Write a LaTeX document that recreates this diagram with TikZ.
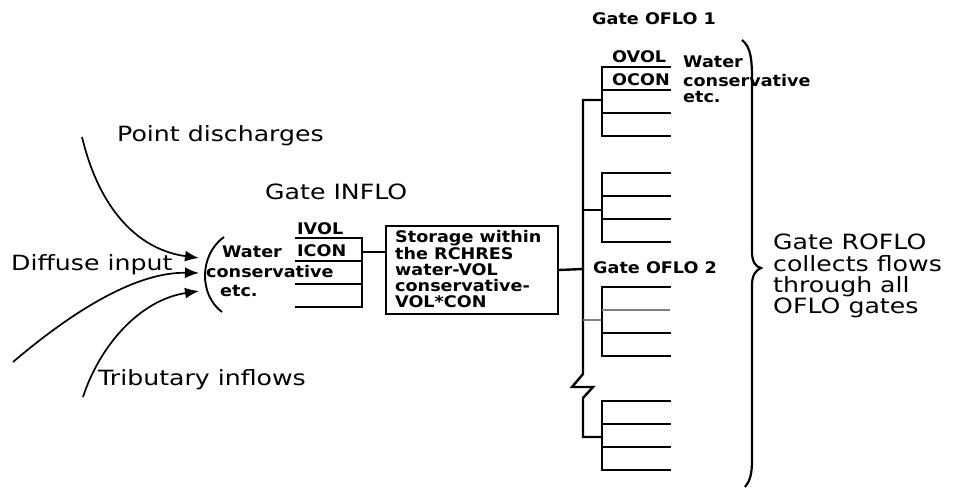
\documentclass[tikz,border=0pt]{standalone}
\usepackage{fontspec}
\usetikzlibrary{arrows.meta}
\newfontfamily\regf[FakeStretch=1.2]{DejaVu Sans}
\newfontfamily\boldf[FakeStretch=1.1]{DejaVu Sans}
\begin{document}
\begin{tikzpicture}[x=1pt,y=-1pt,
  big/.style={font=\regf\fontsize{21}{22}\selectfont, inner sep=0pt, anchor=base west},
  small/.style={font=\boldf\bfseries\fontsize{16}{17}\selectfont, inner sep=0pt, anchor=base west},
  tree/.style={line width=2.4pt, line cap=rect},
  gline/.style={line width=1.7pt},
  flow/.style={line width=1.7pt, -{Latex[length=14pt,width=11pt]}},
  storebox/.style={draw, line width=2pt, inner sep=0pt, minimum width=172pt, minimum height=88pt, anchor=north west}]
\useasboundingbox (0,0) rectangle (954,492);

% ---- inflow side labels
\node[big] (pd) at (117,142) {Point discharges};
\node[big] (gi) at (265,200) {Gate INFLO};
\node[big] (di) at (11,270) {Diffuse input};
\node[big] (ti) at (98,385) {Tributary inflows};

% ---- input arrows
\coordinate (s1) at (82,137);
\coordinate (e1) at (199,258);
\coordinate (s2) at (13,362);
\coordinate (e2) at (199,273);
\coordinate (s3) at (83,397);
\coordinate (e3) at (199,291);
\draw[flow] (s1) .. controls (100,212) and (140,250) .. (e1);
\draw[flow] (s2) .. controls (80,305) and (140,272) .. (e2);
\draw[flow] (s3) .. controls (100,345) and (140,300) .. (e3);

% ---- parenthesis and its text
\coordinate (pt) at (224,237);
\coordinate (pb) at (222,312);
\draw[line width=1.9pt] (pt) .. controls (199,255) and (199,295) .. (pb);
\node[small] (w1) at (222,257) {Water};
\node[small] (c1) at (206,277) {conservative};
\node[small] (x1) at (220,296) {etc.};

% ---- gate INFLO
\node[small] (ivol) at (297,234) {IVOL};
\node[small] (icon) at (297,256) {ICON};
\draw[gline] (295,238) -- (362,238) -- (362,307) -- (295,307);
\draw[gline] (295,261) -- (362,261);
\draw[gline] (295,284) -- (362,284);

% ---- storage box
\node[storebox] (store) at (385,225) {};
\foreach \t [count=\i] in {Storage within, the RCHRES, water-VOL, conservative-, VOL*CON}
  \node[small] (st\i) at (395,{243+16*(\i-1)}) {\t};
\coordinate (ij) at (362,252);
\draw[gline] (ij) -- (ij -| store.west);

% ---- trunk
\coordinate (tr) at (583,269);
\draw[tree] (store.east) -- (tr);
\draw[tree] (602,100) -- (583,100) -- (583,374) -- (572,387) -- (593,387) -- (583,398) -- (583,437) -- (602,437);
\draw[tree] (583,210) -- (602,210);
\draw[line width=1.5pt, gray] (583,320) -- (602,320);

% ---- OFLO groups
\foreach \top in {67,173,287,401}{
  \draw[tree] (670,\top) -- (602,\top) -- (602,{\top+69}) -- (670,{\top+69});
  \draw[tree] (602,{\top+46}) -- (670,{\top+46});
}
\foreach \top in {67,173,401}{
  \draw[tree] (602,{\top+23}) -- (670,{\top+23});
}
\draw[line width=1.5pt, gray] (602,310) -- (670,310);

% ---- OFLO labels
\node[small] (go1) at (592,25) {Gate OFLO 1};
\node[small] (ovol) at (612,63) {OVOL};
\node[small] (ocon) at (612,86) {OCON};
\node[small] (w2) at (683,68) {Water};
\node[small] (c2) at (683,87) {conservative};
\node[small] (x2) at (683,103) {etc.};
\node[small] (go2) at (593,273) {Gate OFLO 2};

% ---- brace
\draw[line width=2.2pt] (742,40) .. controls (751,47) and (752,60) .. (752,80)
  -- (752,252) .. controls (752,262) and (756,267) .. (761,268)
  .. controls (756,270) and (752,275) .. (752,285)
  -- (752,460) .. controls (752,474) and (750,481) .. (745,487);

% ---- ROFLO text
\foreach \t [count=\i] in {Gate ROFLO, collects flows, through all, OFLO gates}
  \node[big] (r\i) at (773,{250+21*(\i-1)}) {\t};
\end{tikzpicture}
\end{document}
